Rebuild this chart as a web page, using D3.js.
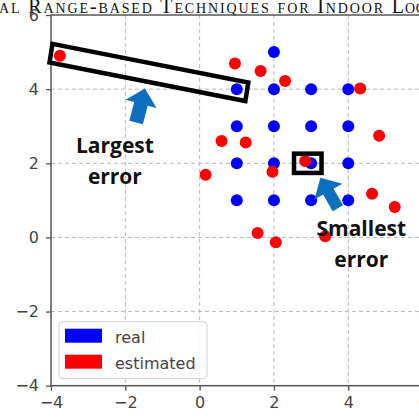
<!DOCTYPE html>
<html>
<head>
<meta charset="utf-8">
<script src="https://cdn.jsdelivr.net/npm/d3@7/dist/d3.min.js"></script>
<style>
  html, body { margin: 0; padding: 0; background: #fff; }
  svg { display: block; }
</style>
</head>
<body>
<svg id="chart" width="419" height="419"></svg>
<script>
// ---- data ----
const realX = [2, 1, 2, 3, 4, 1, 2, 3, 4, 1, 2, 3, 4, 1, 2, 3, 4];
const realY = [5, 4, 4, 4, 4, 3, 3, 3, 3, 2, 2, 2, 2, 1, 1, 1, 1];
const estX = [-3.76, 0.95, 1.64, 2.30, 4.32, 4.83, 0.59, 1.24, 2.84, 1.96, 0.16, 4.64, 5.25, 1.56, 2.05, 3.38];
const estY = [4.90, 4.69, 4.49, 4.22, 4.02, 2.74, 2.60, 2.56, 2.06, 1.77, 1.69, 1.18, 0.82, 0.12, -0.13, 0.03];
const xTicks = [-4, -2, 0, 2, 4, 6];
const yTicks = [-4, -2, 0, 2, 4, 6];
const gridTicks = [-2, 0, 2, 4];
const seriesNames = ["real", "estimated"];
const seriesColors = ["#0000ff", "#ff0000"];
// annotations (data coordinates)
const bigBoxX = [-3.96, 1.31, 1.23, -4.04];
const bigBoxY = [5.22, 4.18, 3.68, 4.72];
const smallBoxX = [2.54, 3.28];
const smallBoxY = [2.26, 1.74];
const arrowBaseX = [-1.71, 3.72];
const arrowBaseY = [3.10, 0.785];
const arrowTipX = [-1.47, 3.25];
const arrowTipY = [4.02, 1.61];
const noteLines = [["Largest", "error"], ["Smallest", "error"]];
const noteX = [-2.28, 4.35];
const noteY = [[2.29, 1.45], [0.04, -0.80]];
const headerParts = ["al Range-based Techniques for Indoor ", "Localization"];

// ---- layout ----
const svg = d3.select("#chart");
const L = 51, T = 15, W = 371.6, H = 370.7;
const x = d3.scaleLinear().domain([-4, 6]).range([L, L + W]);
const y = d3.scaleLinear().domain([-4, 6]).range([T + H, T]);
const axisCol = "#555";

// header text (clipped page header)
const hdr = svg.append("text")
  .attr("x", -1).attr("y", 12.5)
  .attr("font-family", "Liberation Serif, DejaVu Serif, serif")
  .attr("font-size", 20)
  .style("font-variant", "small-caps")
  .attr("fill", "#111");
hdr.append("tspan").attr("textLength", 391).attr("lengthAdjust", "spacing").text(headerParts[0]);
hdr.append("tspan").style("letter-spacing", "0.8px").text(headerParts[1]);

// grid
const g = svg.append("g");
g.selectAll(".gx").data(gridTicks).join("line")
  .attr("x1", d => x(d)).attr("x2", d => x(d))
  .attr("y1", T).attr("y2", T + H)
  .attr("stroke", "#b8b8b8").attr("stroke-width", 1).attr("stroke-dasharray", "4,3");
g.selectAll(".gy").data(gridTicks).join("line")
  .attr("y1", d => y(d)).attr("y2", d => y(d))
  .attr("x1", L).attr("x2", L + W)
  .attr("stroke", "#b8b8b8").attr("stroke-width", 1).attr("stroke-dasharray", "4,3");

// axes
const xAxis = svg.append("g").attr("transform", `translate(0,${T + H})`)
  .call(d3.axisBottom(x).tickValues(xTicks).tickSize(5).tickPadding(6));
const yAxis = svg.append("g").attr("transform", `translate(${L},0)`)
  .call(d3.axisLeft(y).tickValues(yTicks).tickSize(5).tickPadding(7));
[xAxis, yAxis].forEach(a => {
  a.select(".domain").remove();
  a.selectAll(".tick line").attr("stroke", axisCol).attr("stroke-width", 1.3);
  a.selectAll(".tick text")
    .attr("font-family", "DejaVu Sans, sans-serif")
    .attr("font-size", 16)
    .attr("fill", "#444");
});
// spines
svg.append("rect").attr("x", L).attr("y", T).attr("width", W).attr("height", H)
  .attr("fill", "none").attr("stroke", axisCol).attr("stroke-width", 1.5);

// points
const realPts = realX.map((d, i) => [d, realY[i]]);
const estPts = estX.map((d, i) => [d, estY[i]]);
svg.append("g").selectAll("circle").data(realPts).join("circle")
  .attr("cx", d => x(d[0])).attr("cy", d => y(d[1])).attr("r", 6)
  .attr("fill", seriesColors[0]);
svg.append("g").selectAll("circle").data(estPts).join("circle")
  .attr("cx", d => x(d[0])).attr("cy", d => y(d[1])).attr("r", 6)
  .attr("fill", seriesColors[1]);

// annotation boxes
const bigPoly = bigBoxX.map((d, i) => [x(d), y(bigBoxY[i])]);
svg.append("polygon")
  .attr("points", bigPoly.map(p => p.join(",")).join(" "))
  .attr("fill", "none").attr("stroke", "#000").attr("stroke-width", 4.5)
  .attr("stroke-linejoin", "miter");
svg.append("rect")
  .attr("x", x(smallBoxX[0])).attr("y", y(smallBoxY[0]))
  .attr("width", x(smallBoxX[1]) - x(smallBoxX[0]))
  .attr("height", y(smallBoxY[1]) - y(smallBoxY[0]))
  .attr("fill", "none").attr("stroke", "#000").attr("stroke-width", 4.5);

// block arrows
function blockArrow(bx, by, tx, ty, shaftW, headW, headLen) {
  const dx = tx - bx, dy = ty - by;
  const len = Math.hypot(dx, dy);
  const ux = dx / len, uy = dy / len;
  const nx = -uy, ny = ux;
  const hx = tx - ux * headLen, hy = ty - uy * headLen;
  const s = shaftW / 2, h = headW / 2;
  return [
    [bx + nx * s, by + ny * s],
    [hx + nx * s, hy + ny * s],
    [hx + nx * h, hy + ny * h],
    [tx, ty],
    [hx - nx * h, hy - ny * h],
    [hx - nx * s, hy - ny * s],
    [bx - nx * s, by - ny * s]
  ];
}
const arrowShaft = [14, 12];
arrowBaseX.forEach((bxv, i) => {
  const pts = blockArrow(x(bxv), y(arrowBaseY[i]), x(arrowTipX[i]), y(arrowTipY[i]), arrowShaft[i], 32, 16);
  svg.append("polygon")
    .attr("points", pts.map(p => p.join(",")).join(" "))
    .attr("fill", "#0d6fbd");
});

// annotation text
noteLines.forEach((lines, i) => {
  lines.forEach((t, j) => {
    svg.append("text")
      .attr("x", x(noteX[i])).attr("y", y(noteY[i][j]))
      .attr("text-anchor", "middle")
      .attr("font-family", "Open Sans, sans-serif")
      .attr("font-weight", "bold")
      .attr("font-size", 21)
      .attr("fill", "#111")
      .text(t);
  });
});

// legend
const lg = svg.append("g").attr("transform", `translate(${L + 8},${T + H - 64})`);
lg.append("rect").attr("x", 0).attr("y", 0).attr("width", 148).attr("height", 57)
  .attr("rx", 4).attr("fill", "#fff").attr("fill-opacity", 0.85)
  .attr("stroke", "#d0d0d0").attr("stroke-width", 1);
seriesNames.forEach((name, i) => {
  lg.append("rect").attr("x", 6).attr("y", 7 + i * 26).attr("width", 37).attr("height", 14)
    .attr("fill", seriesColors[i]);
  lg.append("text").attr("x", 56).attr("y", 21 + i * 26)
    .attr("font-family", "DejaVu Sans, sans-serif").attr("font-size", 16)
    .attr("fill", "#444").text(name);
});
</script>
</body>
</html>
